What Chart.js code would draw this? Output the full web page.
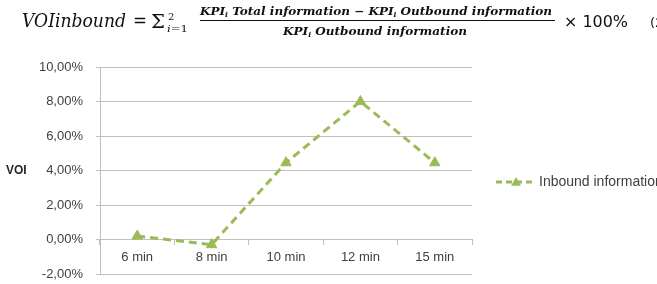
<!DOCTYPE html>
<html>
<head>
<meta charset="utf-8">
<script src="https://cdn.jsdelivr.net/npm/chart.js@4"></script>
<style>
  html, body { margin: 0; padding: 0; background: #fff; }
  #wrap { position: relative; width: 657px; height: 284px; overflow: hidden; }
  #chart { position: absolute; left: 0; top: 0; }
  #formula { position: absolute; left: 0; top: 0; }
  #voi { position: absolute; left: 6px; top: 163px; font: bold 12px "Liberation Sans", sans-serif; color: #262626; }
</style>
</head>
<body>
<div id="wrap">
  <canvas id="chart" width="657" height="284"></canvas>
  <svg id="formula" width="657" height="48" xmlns="http://www.w3.org/2000/svg">
    <g font-family="DejaVu Serif, serif" fill="#111">
      <text x="22" y="27" font-size="18" font-style="italic" textLength="104" lengthAdjust="spacingAndGlyphs">VOIinbound</text>
      <text x="133" y="27" font-size="18" textLength="14" lengthAdjust="spacingAndGlyphs">=</text>
      <text x="151" y="28" font-size="18" textLength="14" lengthAdjust="spacingAndGlyphs">Σ</text>
      <text x="168" y="20" font-size="10">2</text>
      <text x="167" y="32" font-size="10" font-style="italic" textLength="21" lengthAdjust="spacingAndGlyphs">i<tspan font-style="normal">=1</tspan></text>
      <text x="200" y="15" font-size="11" font-style="italic" font-weight="bold" textLength="352" lengthAdjust="spacingAndGlyphs">KPI<tspan font-size="7" dy="2">i</tspan><tspan dy="-2"> Total information − KPI</tspan><tspan font-size="7" dy="2">i</tspan><tspan dy="-2"> Outbound information</tspan></text>
      <line x1="200" y1="20.5" x2="555" y2="20.5" stroke="#111" stroke-width="1"/>
      <text x="283" y="35" font-size="11" font-style="italic" font-weight="bold" textLength="184" lengthAdjust="spacingAndGlyphs">KPI<tspan font-size="7" dy="2">i</tspan><tspan dy="-2"> Outbound information</tspan></text>
      <text x="564" y="27" font-size="16" font-family="DejaVu Sans, sans-serif" textLength="64" lengthAdjust="spacingAndGlyphs">× 100%</text>
      <text x="650" y="27" font-size="13" font-family="DejaVu Sans, sans-serif">(2</text>
    </g>
  </svg>
  <div id="voi">VOI</div>
</div>
<script>
// chart data
const categories = ['6 min', '8 min', '10 min', '12 min', '15 min'];
const voiValues = [0.2, -0.3, 4.45, 8.0, 4.45]; // percent
const seriesLabel = 'Inbound information';
const yMin = -2;
const yMax = 10;
const yStep = 2;

const green = '#9bbb59';
const labelColor = '#404040';
const gridColor = '#bfbfbf';

const fmtPct = v => v.toFixed(2).replace('.', ',') + '%';

// legend drawn by hand so it can show the dashed line + marker like the original
const sideLegend = {
  id: 'sideLegend',
  afterDraw(chart) {
    const ds = chart.data.datasets[0];
    const c = chart.ctx;
    const y = 182;
    c.save();
    c.strokeStyle = ds.borderColor;
    c.lineWidth = 3;
    c.setLineDash([6, 4]);
    c.beginPath();
    c.moveTo(496, y);
    c.lineTo(536, y);
    c.stroke();
    c.setLineDash([]);
    c.fillStyle = ds.pointBackgroundColor;
    const r = 5;
    c.beginPath();
    c.moveTo(516, y - r);
    c.lineTo(516 + r, y + r * 0.75);
    c.lineTo(516 - r, y + r * 0.75);
    c.closePath();
    c.fill();
    c.fillStyle = labelColor;
    c.font = '14px "Liberation Sans", sans-serif';
    c.textBaseline = 'middle';
    c.fillText(ds.label, 539, y);
    c.restore();
  }
};

const ctx = document.getElementById('chart').getContext('2d');
new Chart(ctx, {
  type: 'line',
  data: {
    labels: categories,
    datasets: [{
      label: seriesLabel,
      data: voiValues,
      borderColor: green,
      backgroundColor: green,
      pointBackgroundColor: green,
      pointBorderColor: green,
      borderWidth: 3,
      borderDash: [8, 5],
      pointStyle: 'triangle',
      pointRadius: 6,
      pointBorderWidth: 1,
      tension: 0,
      fill: false
    }]
  },
  options: {
    responsive: false,
    animation: false,
    layout: { padding: { left: 0, right: 185, top: 67, bottom: 10 } },
    plugins: {
      legend: { display: false },
      tooltip: { enabled: false }
    },
    scales: {
      x: {
        position: { y: 0 },
        offset: true,
        afterFit: s => {
          s.height = 0;
          s.paddingTop = s.paddingBottom = s.paddingLeft = s.paddingRight = 0;
        },
        grid: {
          offset: true,
          drawOnChartArea: false,
          drawTicks: true,
          tickLength: 5,
          color: gridColor
        },
        border: { color: gridColor, width: 1 },
        ticks: {
          color: labelColor,
          padding: 5,
          maxRotation: 0,
          font: { family: '"Liberation Sans", sans-serif', size: 13 }
        }
      },
      y: {
        min: yMin,
        max: yMax,
        afterFit: s => {
          s.width = 100;
          s.paddingTop = s.paddingBottom = 0;
        },
        grid: {
          color: gridColor,
          tickLength: 4
        },
        border: { color: gridColor, width: 1 },
        ticks: {
          stepSize: yStep,
          color: labelColor,
          padding: 13,
          font: { family: '"Liberation Sans", sans-serif', size: 13 },
          callback: v => fmtPct(v)
        }
      }
    }
  },
  plugins: [sideLegend]
});
</script>
</body>
</html>
